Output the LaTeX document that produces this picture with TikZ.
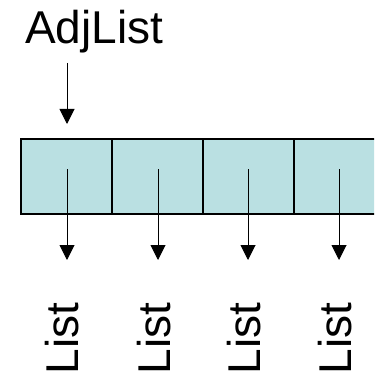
\documentclass[tikz,border=0pt]{standalone}
\usepackage{fontspec}
\setmainfont{Liberation Sans}
\usetikzlibrary{arrows.meta}
\begin{document}
\begin{tikzpicture}[x=1pt,y=-1pt,
  cellbox/.style={draw=black,fill=cellblue,line width=1.6pt,minimum width=91pt,minimum height=75pt,inner sep=0pt,outer sep=0pt},
  arr/.style={line width=1pt,-{Triangle[length=15pt,width=15pt]}},
  lbl/.style={font=\fontsize{46}{46}\selectfont,inner sep=0pt,outer sep=0pt}]
\definecolor{cellblue}{RGB}{186,224,226}
\useasboundingbox (0,0) rectangle (374,374);
\clip (0,0) rectangle (374,374);
\node[lbl,anchor=base west] (adj) at (25,44) {AdjList};
\coordinate (a0) at (67,63);
\coordinate (a1) at (67,124);
\draw[arr] (a0) -- (a1);
\foreach \i/\cx/\sx/\bx in {1/66.5/67/78, 2/157.5/158/170, 3/248.5/248/260, 4/339.5/339/351}{
  \node[cellbox] (cell\i) at (\cx,176.5) {};
  \coordinate (s\i) at (\sx,169);
  \coordinate (e\i) at (\sx,260);
  \node[lbl,rotate=90,anchor=base west] (list\i) at (\bx,374.5) {List};
}
\foreach \i in {1,...,4}{ \draw[arr] (s\i) -- (e\i); }
\end{tikzpicture}
\end{document}
